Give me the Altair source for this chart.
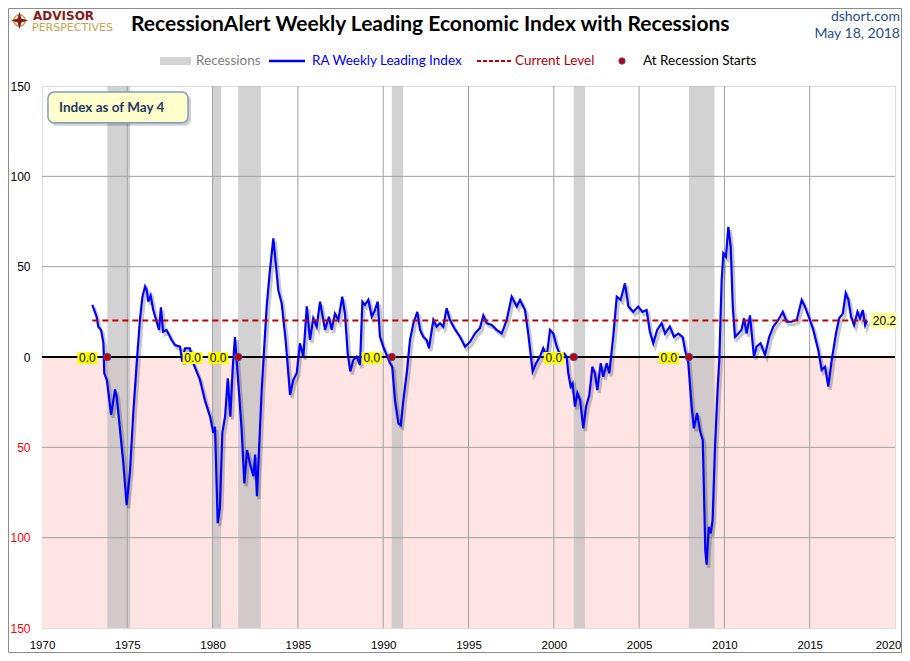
import altair as alt
import pandas as pd

# ---------------- data ----------------
years = [1972.95, 1973.2, 1973.3, 1973.46, 1973.6, 1973.65, 1973.8, 1974.05, 1974.28, 1974.38,
         1974.57, 1974.77, 1974.96, 1975.16, 1975.35, 1975.55, 1975.74, 1975.88, 1976.04, 1976.14,
         1976.23, 1976.37, 1976.52, 1976.72, 1976.86, 1976.97, 1977.1, 1977.3, 1977.6, 1977.8,
         1978.09, 1978.22, 1978.38, 1978.67, 1978.87, 1979.26, 1979.55, 1979.85, 1980.04, 1980.14,
         1980.3, 1980.43, 1980.57, 1980.73, 1980.89, 1981.04, 1981.18, 1981.31, 1981.41, 1981.55,
         1981.7, 1981.86, 1982.02, 1982.19, 1982.39, 1982.49, 1982.6, 1982.72, 1982.88, 1982.97,
         1983.17, 1983.36, 1983.56, 1983.7, 1983.85, 1984.05, 1984.28, 1984.54, 1984.73, 1984.93,
         1985.12, 1985.32, 1985.52, 1985.71, 1985.9, 1986.1, 1986.3, 1986.59, 1986.82, 1986.98,
         1987.17, 1987.37, 1987.6, 1987.76, 1987.92, 1988.07, 1988.25, 1988.45, 1988.64, 1988.78,
         1988.93, 1989.13, 1989.33, 1989.48, 1989.68, 1989.81, 1990.0, 1990.2, 1990.4, 1990.53,
         1990.69, 1990.89, 1991.03, 1991.18, 1991.38, 1991.57, 1991.77, 1992.0, 1992.16, 1992.35,
         1992.55, 1992.68, 1992.94, 1993.13, 1993.33, 1993.52, 1993.72, 1993.91, 1994.17, 1994.5,
         1994.8, 1995.1, 1995.38, 1995.67, 1995.87, 1996.07, 1996.36, 1996.65, 1996.95, 1997.24,
         1997.53, 1997.83, 1998.02, 1998.31, 1998.5, 1998.76, 1998.96, 1999.19, 1999.38, 1999.58,
         1999.78, 1999.97, 2000.17, 2000.36, 2000.6, 2000.75, 2000.85, 2000.99, 2001.1, 2001.24,
         2001.38, 2001.54, 2001.73, 2001.89, 2002.08, 2002.26, 2002.41, 2002.55, 2002.75, 2002.9,
         2003.1, 2003.25, 2003.4, 2003.49, 2003.69, 2003.92, 2004.17, 2004.37, 2004.66, 2004.95,
         2005.2, 2005.44, 2005.63, 2005.83, 2006.06, 2006.32, 2006.52, 2006.8, 2007.04, 2007.3,
         2007.55, 2007.69, 2007.88, 2008.08, 2008.21, 2008.4, 2008.57, 2008.73, 2008.8, 2008.88,
         2008.96, 2009.08, 2009.2, 2009.31, 2009.45, 2009.59, 2009.7, 2009.84, 2009.94, 2010.09,
         2010.23, 2010.37, 2010.49, 2010.62, 2010.82, 2011.0, 2011.15, 2011.3, 2011.5, 2011.73,
         2011.89, 2012.12, 2012.38, 2012.63, 2012.87, 2013.16, 2013.42, 2013.65, 2013.94, 2014.24,
         2014.53, 2014.72, 2014.98, 2015.21, 2015.5, 2015.7, 2015.9, 2016.09, 2016.29, 2016.54,
         2016.73, 2016.94, 2017.11, 2017.27, 2017.42, 2017.6, 2017.8, 2017.95, 2018.11, 2018.25,
         2018.35]
values = [28.8, 22.3, 16.8, 15, 7.6, -9, -12.7, -32, -18, -22,
          -40, -59, -82, -63, -31, -3.5, 20.5, 33, 39, 37,
          30.6, 34, 26, 19.5, 15, 27.5, 14, 15, 9.4, 6.6,
          5.7, -2.6, 4.8, 4.8, -3.5, -12.7, -24, -33, -42, -38.6,
          -92, -83, -42, -33, -11.8, -33, -6, 11, -1.7, -20,
          -40, -70, -51.5, -59, -66, -54, -77, -51.5, -18, -3.5,
          28, 48, 65.7, 52, 37, 29.7, 9.4, -21, -12.7, -9,
          7.6, 0.2, 28, 9.4, 21.4, 16.8, 30.6, 15, 22.3, 15,
          24, 20.5, 33.4, 24, 2, -8, -1.7, 0.2, -4.4, 30.6,
          28.8, 31.6, 22.3, 25, 30.6, 11.2, 5.7, 1.1, -3.5, -5.4,
          -24, -36.7, -37.7, -24, -9, 9.4, 18.7, 25, 15, 11.2,
          9.4, 4.8, 20.5, 16.8, 18.7, 16.8, 27, 20.5, 15.9, 11.2,
          5.7, 8.5, 13, 16, 23, 18.7, 17.7, 15, 13, 20.5,
          33.4, 27.9, 31.6, 26, 13, -8, -3.5, 0.2, 4.8, 0.2,
          15, 13, 5.7, 1.1, 2, 0.2, -9, -16.4, -14.6, -27.5,
          -20, -23.8, -39.5, -27.5, -21, -5.4, -9, -18.3, -3.5, -10.9,
          -3.5, -9, 3.9, 12, 33.4, 31.6, 40.8, 27.9, 25, 27.9,
          25, 26, 14, 7.6, 15, 18.7, 13, 16.8, 11.2, 13,
          11.2, 3.9, -3, -27.5, -39.5, -31, -41, -46, -73.6, -107,
          -115, -94, -97.6, -90, -49.7, -20, -1.7, 42.6, 57.4, 55.5,
          72, 61, 27.9, 11.2, 13, 15, 21.4, 13, 23, 0.2,
          5.7, 7.6, 1.1, 11.2, 16.8, 20.5, 25, 19.5, 19.5, 20.5,
          31.6, 27.9, 21.4, 15, 3.9, -7.2, -5.4, -16.4, -1.7, 13,
          21.4, 24, 35.3, 31.6, 22.3, 17.7, 25, 21.4, 26, 17.7,
          20.2]

rec_start = [1973.83, 1980.0, 1981.5, 1990.5, 2001.17, 2007.92]
rec_end = [1975.17, 1980.5, 1982.83, 1991.17, 2001.83, 2009.42]
rec_label = ["0.0", "0.0", "0.0", "0.0", "0.0", "0.0"]
current_level = 20.2
current_label = "20.2"
x_ticks = [1970, 1975, 1980, 1985, 1990, 1995, 2000, 2005, 2010, 2015, 2020]
x_grid = [1975, 1980, 1985, 1990, 1995, 2000, 2005, 2010, 2015]
y_ticks = [-150, -100, -50, 0, 50, 100, 150]
y_grid = [-100, -50, 50, 100]

W, H = 853, 542
FONT = "Lato"
AXFONT = "Liberation Sans"

xs = alt.Scale(domain=[1970, 2020], nice=False, zero=False)
ys = alt.Scale(domain=[-150, 150], nice=False, zero=False)

series = pd.DataFrame({"year": years, "value": values})
rec = pd.DataFrame({"start": rec_start, "end": rec_end, "label": rec_label, "zero": [0] * len(rec_start)})
one = pd.DataFrame({"a": [0]})

# negative zone (pink)
pink = alt.Chart(pd.DataFrame({"x": [1970], "x2": [2020], "y": [0], "y2": [-150]})).mark_rect(
    color="#FFE4E4"
).encode(
    x=alt.X("x:Q", scale=xs, title=None,
            axis=alt.Axis(values=x_ticks, format="d", labelFont=AXFONT, labelFontSize=11.5,
                          labelColor="black", labelPadding=11, ticks=False, domain=False,
                          grid=False, title=None, labelFlush=False,
                          labelOffset={"condition": {"test": "datum.value == 2020", "value": -7},
                                       "value": 0})),
    x2="x2:Q",
    y=alt.Y("y:Q", scale=ys, title=None,
            axis=alt.Axis(values=y_ticks, labelExpr="abs(datum.value)", labelFont=AXFONT,
                          labelFontSize=12,
                          labelColor={"condition": {"test": "datum.value < 0", "value": "#FF0000"},
                                      "value": "black"},
                          labelPadding=12, ticks=False, domain=False, grid=False, title=None,
                          labelFlush=False)),
    y2="y2:Q",
)

bands = alt.Chart(rec).mark_rect(color="#BFBFBF", opacity=0.7).encode(
    x=alt.X("start:Q", scale=xs, title=None), x2="end:Q",
    y=alt.value(0), y2=alt.value(H),
)

vgrid = alt.Chart(pd.DataFrame({"g": x_grid})).mark_rule(color="#A0A0A0", strokeWidth=1).encode(
    x=alt.X("g:Q", scale=xs, title=None)
)
hgrid = alt.Chart(pd.DataFrame({"g": y_grid})).mark_rule(color="#A0A0A0", strokeWidth=1).encode(
    y=alt.Y("g:Q", scale=ys, title=None)
)
zero = alt.Chart(pd.DataFrame({"g": [0]})).mark_rule(color="black", strokeWidth=2.2).encode(
    y=alt.Y("g:Q", scale=ys, title=None)
)

shadow = alt.Chart(series).mark_line(color="#000000", opacity=0.22, strokeWidth=3.2,
                                     xOffset=2, yOffset=3).encode(
    x=alt.X("year:Q", scale=xs, title=None), y=alt.Y("value:Q", scale=ys, title=None)
)
line = alt.Chart(series).mark_line(color="#0000FF", strokeWidth=2.2).encode(
    x=alt.X("year:Q", scale=xs, title=None), y=alt.Y("value:Q", scale=ys, title=None)
)

level = alt.Chart(pd.DataFrame({"x": [years[0]], "x2": [years[-1]], "y": [current_level]})).mark_rule(
    color="#C00000", strokeWidth=2, strokeDash=[6, 4]
).encode(x=alt.X("x:Q", scale=xs, title=None), x2="x2:Q", y=alt.Y("y:Q", scale=ys, title=None))

dots = alt.Chart(rec).mark_point(filled=True, shape="circle", size=55, color="#C00000",
                                 stroke="#4848B0", strokeWidth=1, opacity=1).encode(
    x=alt.X("start:Q", scale=xs, title=None), y=alt.Y("zero:Q", scale=ys, title=None)
)

BOX = "M-1,-0.6L1,-0.6L1,0.6L-1,0.6Z"
lab_box = alt.Chart(rec).mark_point(filled=True, shape=BOX, size=400, color="#FFFF00",
                                    opacity=1, xOffset=-20, yOffset=1).encode(
    x=alt.X("start:Q", scale=xs, title=None), y=alt.Y("zero:Q", scale=ys, title=None)
)
lab_txt = alt.Chart(rec).mark_text(font=AXFONT, fontSize=12, color="black", dx=-20, dy=1,
                                   baseline="middle", align="center").encode(
    x=alt.X("start:Q", scale=xs, title=None), y=alt.Y("zero:Q", scale=ys, title=None),
    text="label:N"
)

cur = pd.DataFrame({"x": [years[-1]], "y": [current_level], "t": [current_label]})
cur_box = alt.Chart(cur).mark_point(filled=True, shape=BOX, size=676, color="#FFFF99",
                                    opacity=1, xOffset=17, yOffset=0).encode(
    x=alt.X("x:Q", scale=xs, title=None), y=alt.Y("y:Q", scale=ys, title=None)
)
cur_txt = alt.Chart(cur).mark_text(font=AXFONT, fontSize=12, color="black", dx=6, align="left",
                                   baseline="middle").encode(
    x=alt.X("x:Q", scale=xs, title=None), y=alt.Y("y:Q", scale=ys, title=None), text="t:N"
)

# annotation box "Index as of May 4"
note = pd.DataFrame({"x": [1970.35], "x2": [1978.56], "y": [146.7], "y2": [129.6],
                     "tx": [1971.0], "ty": [137.9], "t": ["Index as of May 4"]})
note_sh = alt.Chart(note).mark_rect(color="#000000", opacity=0.18, cornerRadius=6,
                                    xOffset=3, yOffset=3, x2Offset=3, y2Offset=3).encode(
    x=alt.X("x:Q", scale=xs, title=None), x2="x2:Q", y=alt.Y("y:Q", scale=ys, title=None), y2="y2:Q"
)
note_box = alt.Chart(note).mark_rect(color="#FFFFCC", stroke="#7F9DC4", strokeWidth=1.5,
                                     cornerRadius=6).encode(
    x=alt.X("x:Q", scale=xs, title=None), x2="x2:Q", y=alt.Y("y:Q", scale=ys, title=None), y2="y2:Q"
)
note_txt = alt.Chart(note).mark_text(font=FONT, fontSize=13.5, fontWeight="bold", color="#1F3864",
                                     align="left", baseline="middle").encode(
    x=alt.X("tx:Q", scale=xs, title=None), y=alt.Y("ty:Q", scale=ys, title=None), text="t:N"
)

# ---------------- header: logo, title, source, legend ----------------
def txt(s, x, y, size, color, weight="normal", align="left", font=FONT, baseline="middle"):
    return alt.Chart(one).mark_text(text=s, font=font, fontSize=size, fontWeight=weight,
                                    color=color, align=align, baseline=baseline).encode(
        x=alt.value(x), y=alt.value(y))

OX, OY = 42, 86  # page position of plot origin
title = txt("RecessionAlert Weekly Leading Economic Index with Recessions", 131 - OX, 31 - OY,
            21, "black", "bold", baseline="alphabetic")
logo1 = txt("ADVISOR", 33 - OX, 19.5 - OY, 12, "#8B1A1A", "bold", font="DejaVu Sans",
            baseline="alphabetic")
logo2 = txt("PERSPECTIVES", 32 - OX, 31 - OY, 11, "#C9A44C", "normal", font="DejaVu Sans",
            baseline="alphabetic")
STAR = "M0,-1L0.22,-0.22L1,0L0.22,0.22L0,1L-0.22,0.22L-1,0L-0.22,-0.22Z"
compass2 = alt.Chart(one).mark_point(shape="circle", filled=False, size=130, color="#C9A44C",
                                     strokeWidth=1.6, opacity=1).encode(x=alt.value(19.5 - OX),
                                                                        y=alt.value(20.5 - OY))
compass = alt.Chart(one).mark_point(shape=STAR, filled=True, size=300, color="#8B1A1A",
                                    opacity=1).encode(x=alt.value(19.5 - OX), y=alt.value(20.5 - OY))
src1 = txt("dshort.com", 900 - OX, 17 - OY, 14, "#1F4E8C", align="right")
src2 = txt("May 18, 2018", 900 - OX, 33.5 - OY, 14, "#1F4E8C", align="right")

LY = 61 - OY
leg_rect = alt.Chart(one).mark_rect(color="#D3D3D3").encode(
    x=alt.value(160 - OX), x2=alt.value(191 - OX), y=alt.value(LY - 4), y2=alt.value(LY + 4))
leg_t1 = txt("Recessions", 196 - OX, LY, 13.5, "#808080")
leg_line = alt.Chart(one).mark_rule(color="#0000FF", strokeWidth=2.5).encode(
    x=alt.value(269 - OX), x2=alt.value(305 - OX), y=alt.value(LY))
leg_t2 = txt("RA Weekly Leading Index", 312 - OX, LY, 13.5, "#0000FF")
leg_dash = alt.Chart(one).mark_rule(color="#C00000", strokeWidth=2, strokeDash=[4, 2]).encode(
    x=alt.value(477 - OX), x2=alt.value(512 - OX), y=alt.value(LY))
leg_t3 = txt("Current Level", 515 - OX, LY, 13.5, "#C00000")
leg_dot = alt.Chart(one).mark_point(filled=True, shape="circle", size=40, color="#C00000",
                                    stroke="#4848B0", strokeWidth=1, opacity=1).encode(
    x=alt.value(622 - OX), y=alt.value(LY))
leg_t4 = txt("At Recession Starts", 643 - OX, LY, 13.5, "black")

PAD_R, PAD_B = 7, 25
frame = alt.Chart(one).mark_rect(fill=None, stroke="#8C8C8C", strokeWidth=1).encode(
    x=alt.value(-33.5), x2=alt.value(W + PAD_R - 0.5), y=alt.value(-77.5), y2=alt.value(H + PAD_B - 0.5))

chart = alt.layer(
    pink, bands, vgrid, hgrid, zero, shadow, line, level, dots, lab_box, lab_txt,
    cur_box, cur_txt, note_sh, note_box, note_txt,
    compass2, compass, logo1, logo2, title, src1, src2,
    leg_rect, leg_t1, leg_line, leg_t2, leg_dash, leg_t3, leg_dot, leg_t4, frame,
).properties(
    width=W, height=H,
    autosize=alt.AutoSizeParams(type="none"),
    padding={"left": 34, "top": 78, "right": PAD_R, "bottom": PAD_B},
).configure_view(stroke="#8C8C8C", strokeWidth=1).configure(background="white", font=FONT)

chart.save("out.html", embed_options={"renderer": "svg", "actions": False})
